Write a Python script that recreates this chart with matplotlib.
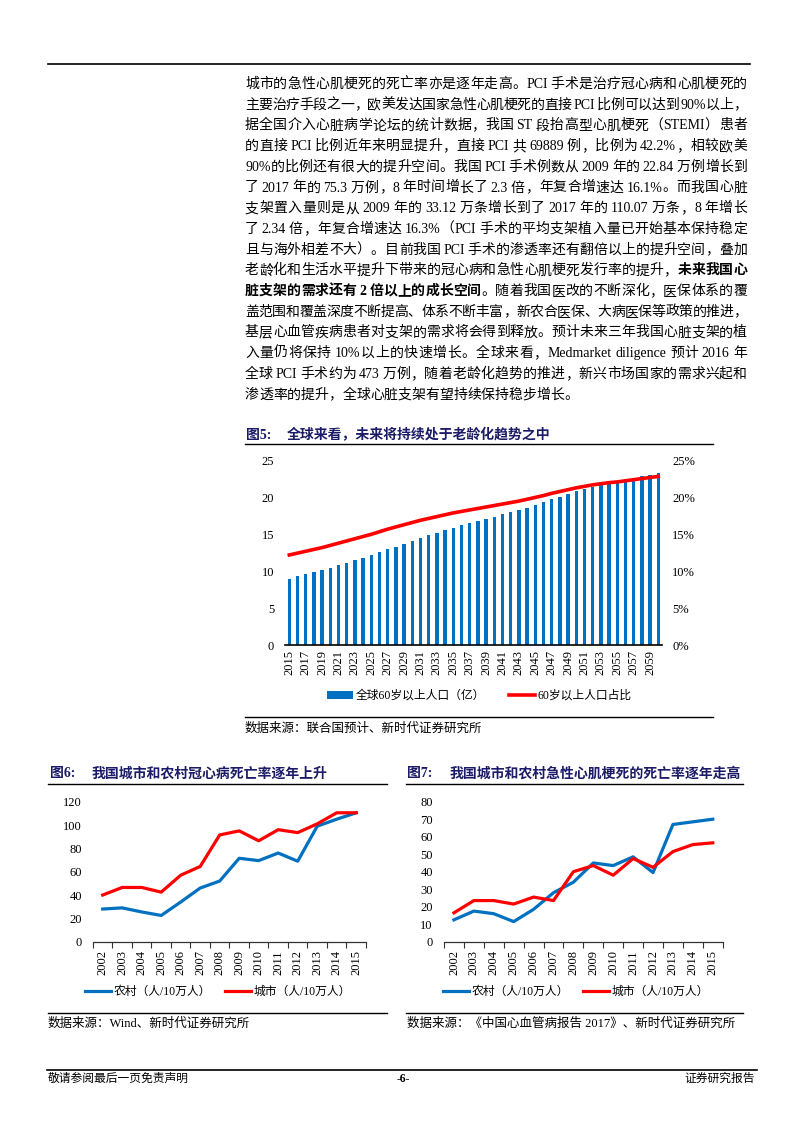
import re
import numpy as np
import matplotlib
matplotlib.use('Agg')
import matplotlib.pyplot as plt
from matplotlib.lines import Line2D

plt.rcParams['font.family'] = ['Liberation Serif', 'Noto Sans CJK SC']

# ---- data ----
years5 = [str(y) for y in range(2015, 2061)]
pop60 = [9.0, 9.3, 9.6, 9.9, 10.2, 10.5, 10.85, 11.15, 11.5, 11.85,
         12.2, 12.6, 12.95, 13.3, 13.7, 14.1, 14.5, 14.85, 15.2, 15.55,
         15.9, 16.2, 16.5, 16.8, 17.1, 17.4, 17.7, 18.0, 18.3, 18.6,
         18.95, 19.35, 19.75, 20.1, 20.45, 20.8, 21.1, 21.4, 21.7, 21.95,
         22.15, 22.35, 22.6, 22.85, 23.1, 23.35]
share60 = [12.2, 12.45, 12.7, 12.95, 13.2, 13.5, 13.8, 14.1, 14.4, 14.7,
           15.0, 15.35, 15.7, 16.0, 16.3, 16.6, 16.9, 17.15, 17.4, 17.65,
           17.9, 18.1, 18.3, 18.5, 18.7, 18.9, 19.1, 19.3, 19.5, 19.75,
           20.0, 20.25, 20.55, 20.8, 21.05, 21.3, 21.5, 21.7, 21.85, 22.0,
           22.1, 22.25, 22.4, 22.55, 22.7, 22.85]

years = [str(y) for y in range(2002, 2016)]
chd_rural = [28, 29, 25.5, 22.5, 34, 46, 52, 71.5, 69.5, 76, 69, 99, 105, 110.5]
chd_urban = [40, 46.5, 46.5, 42.5, 57, 64.5, 91.5, 95, 86.5, 96, 93.5, 101, 110.5, 110.5]
ami_rural = [12.5, 17.5, 16, 11.5, 18.5, 28, 34, 45, 43.5, 48.5, 39.5, 67, 68.5, 70]
ami_urban = [16.5, 23.5, 23.5, 21.5, 25.5, 23.5, 40, 43.5, 38, 47.5, 42.5, 51.5, 55.5, 56.5]

body = [
    [("城市的急性心肌梗死的死亡率亦是逐年走高。PCI 手术是治疗冠心病和心肌梗死的", False)],
    [("主要治疗手段之一，欧美发达国家急性心肌梗死的直接 PCI 比例可以达到 90%以上，", False)],
    [("据全国介入心脏病学论坛的统计数据，我国 ST 段抬高型心肌梗死（STEMI）患者", False)],
    [("的直接 PCI 比例近年来明显提升，直接 PCI 共 69889 例，比例为 42.2%，相较欧美", False)],
    [("90%的比例还有很大的提升空间。我国 PCI 手术例数从 2009 年的 22.84 万例增长到", False)],
    [("了 2017 年的 75.3 万例，8 年时间增长了 2.3 倍，年复合增速达 16.1%。而我国心脏", False)],
    [("支架置入量则是从 2009 年的 33.12 万条增长到了 2017 年的 110.07 万条，8 年增长", False)],
    [("了 2.34 倍，年复合增速达 16.3%（PCI 手术的平均支架植入量已开始基本保持稳定", False)],
    [("且与海外相差不大）。目前我国 PCI 手术的渗透率还有翻倍以上的提升空间，叠加", False)],
    [("老龄化和生活水平提升下带来的冠心病和急性心肌梗死发行率的提升，", False), ("未来我国心", True)],
    [("脏支架的需求还有 2 倍以上的成长空间", True), ("。随着我国医改的不断深化，医保体系的覆", False)],
    [("盖范围和覆盖深度不断提高、体系不断丰富，新农合医保、大病医保等政策的推进，", False)],
    [("基层心血管疾病患者对支架的需求将会得到释放。预计未来三年我国心脏支架的植", False)],
    [("入量仍将保持 10%以上的快速增长。全球来看，Medmarket diligence 预计 2016 年", False)],
    [("全球 PCI 手术约为 473 万例，随着老龄化趋势的推进，新兴市场国家的需求兴起和", False)],
    [("渗透率的提升，全球心脏支架有望持续保持稳步增长。", False)],
]

BLUE = '#0070C0'
RED = '#FF0000'
NAVY = '#1B1B68'

W, H = 793, 1122
fig = plt.figure(figsize=(W / 100, H / 100), dpi=100)
renderer = fig.canvas.get_renderer()


def fx(x):
    return x / W


def fy(y):
    return 1 - y / H


def hline(x0, x1, y, lw=1.0):
    fig.add_artist(Line2D([fx(x0), fx(x1)], [fy(y), fy(y)],
                          transform=fig.transFigure, color='black', lw=lw))


def add_ax(x0, x1, ytop, ybot):
    return fig.add_axes([fx(x0), fy(ybot), (x1 - x0) / W, (ybot - ytop) / H])


TOK = re.compile(r'[A-Za-z0-9.%]+| |.')


def body_line(segs, y, x0=245, x1=747, justify=True, size=10):
    em = size * 100 / 72
    arts, widths = [], []
    for s, bold in segs:
        for m in TOK.finditer(s):
            t = m.group()
            if t == ' ':
                arts.append(None)
                widths.append(2.5)
                continue
            a = fig.text(0, fy(y), t, fontsize=size, va='baseline', ha='left',
                         fontweight='bold' if bold else 'normal')
            arts.append(a)
            if ord(t[0]) > 0x2000:
                widths.append(em)
            else:
                widths.append(a.get_window_extent(renderer).width)
    gap = 0.0
    if justify and len(arts) > 1:
        gap = (x1 - x0 - sum(widths)) / (len(arts) - 1)
    x = x0
    for a, w in zip(arts, widths):
        if a is not None:
            a.set_x(fx(x))
        x += w + gap


# header rule
hline(48, 750, 64, lw=1.2)

# body text
for i, segs in enumerate(body):
    body_line(segs, 83 + 20.7 * i + 5, justify=(i < len(body) - 1))


def caption(x_num, x_txt, y, num, txt):
    fig.text(fx(x_num), fy(y), num, fontsize=10, fontweight='bold', color=NAVY, va='center')
    fig.text(fx(x_txt), fy(y), txt, fontsize=10, fontweight='bold', color=NAVY, va='center')


# ---------- Figure 5 ----------
caption(246, 287, 435, "图5:", "全球来看，未来将持续处于老龄化趋势之中")
hline(245, 713, 444)
hline(245, 713, 717)
fig.text(fx(245), fy(729), "数据来源：联合国预计、新时代证券研究所", fontsize=9, va='center')

ax5 = add_ax(285.2, 662.4, 460.5, 645)
x5 = np.arange(len(years5))
bars = ax5.bar(x5, pop60, width=0.42, color=BLUE)
ax5.set_xlim(-0.5, len(years5) - 0.5)
ax5.set_ylim(0, 25)
ax5.set_yticks([0, 5, 10, 15, 20, 25])
ax5.set_xticks(x5[::2])
ax5.set_xticklabels(years5[::2], rotation=90)
ax5.tick_params(axis='x', length=0, pad=3.5, labelsize=9)
ax5.tick_params(axis='y', length=0, pad=8, labelsize=9)
for s in ['top', 'right', 'left']:
    ax5.spines[s].set_visible(False)
ax5.spines['bottom'].set_linewidth(1.2)

ax5r = ax5.twinx()
line5, = ax5r.plot(x5, share60, color=RED, lw=2.6)
ax5r.set_ylim(0, 25)
ax5r.set_yticks([0, 5, 10, 15, 20, 25])
ax5r.set_yticklabels([f"{v}%" for v in [0, 5, 10, 15, 20, 25]])
ax5r.tick_params(axis='y', length=0, pad=7, labelsize=9)
for s in ['top', 'right', 'left', 'bottom']:
    ax5r.spines[s].set_visible(False)

leg_kw = dict(loc='center left', bbox_transform=fig.transFigure, frameon=False,
              fontsize=8.5, handlelength=2.2, handletextpad=0.2, borderpad=0,
              borderaxespad=0)
lg = ax5.legend([bars], ["全球60岁以上人口（亿）"], bbox_to_anchor=(fx(327), fy(696)), **leg_kw)
ax5.add_artist(lg)
ax5.legend([line5], ["60岁以上人口占比"], bbox_to_anchor=(fx(509), fy(696)), **leg_kw)


# ---------- Figures 6 and 7 ----------
def line_chart(rect, rural, urban, ymax, ystep, leg_y, leg_x1, leg_x2):
    ax = add_ax(*rect)
    x = np.arange(len(years))
    lr, = ax.plot(x, rural, color=BLUE, lw=2.3)
    lu, = ax.plot(x, urban, color=RED, lw=2.3)
    ax.set_xlim(-0.5, len(years) - 0.5)
    ax.set_ylim(0, ymax)
    ax.set_yticks(np.arange(0, ymax + 1, ystep))
    ax.set_xticks(x)
    ax.set_xticklabels(years, rotation=90)
    ax.set_xticks(np.arange(-0.5, len(years), 1), minor=True)
    ax.tick_params(axis='x', which='major', length=0, pad=6, labelsize=9)
    ax.tick_params(axis='x', which='minor', length=4, width=0.8, color='#333333')
    ax.tick_params(axis='y', length=0, pad=8, labelsize=9)
    for s in ['top', 'right', 'left']:
        ax.spines[s].set_visible(False)
    ax.spines['bottom'].set_color('#333333')
    ax.spines['bottom'].set_linewidth(0.9)
    lg1 = ax.legend([lr], ["农村（人/10万人）"], bbox_to_anchor=(fx(leg_x1), fy(leg_y)), **leg_kw)
    ax.add_artist(lg1)
    ax.legend([lu], ["城市（人/10万人）"], bbox_to_anchor=(fx(leg_x2), fy(leg_y)), **leg_kw)
    return ax


caption(50, 92, 774, "图6:", "我国城市和农村冠心病死亡率逐年上升")
hline(48, 387, 784)
hline(48, 387, 1013)
fig.text(fx(48), fy(1024), "数据来源：Wind、新时代证券研究所", fontsize=9, va='center')
line_chart((92.95, 365.95, 801.7, 941.7), chd_rural, chd_urban, 120, 20, 992, 85, 225)

caption(407, 450, 774, "图7:", "我国城市和农村急性心肌梗死的死亡率逐年走高")
hline(406, 743, 784)
hline(406, 743, 1013)
fig.text(fx(407), fy(1024), "数据来源：《中国心血管病报告 2017》、新时代证券研究所", fontsize=9, va='center')
line_chart((444, 722.7, 801.7, 941.7), ami_rural, ami_urban, 80, 10, 992, 443, 583)

# footer
hline(47, 757, 1070, lw=1.2)
fig.text(fx(48), fy(1079), "敬请参阅最后一页免责声明", fontsize=8.5, va='center')
fig.text(fx(403), fy(1079), "-6-", fontsize=8.5, va='center', ha='center', fontweight='bold')
fig.text(fx(755), fy(1079), "证券研究报告", fontsize=8.5, va='center', ha='right')

fig.savefig('out.png', dpi=100)
